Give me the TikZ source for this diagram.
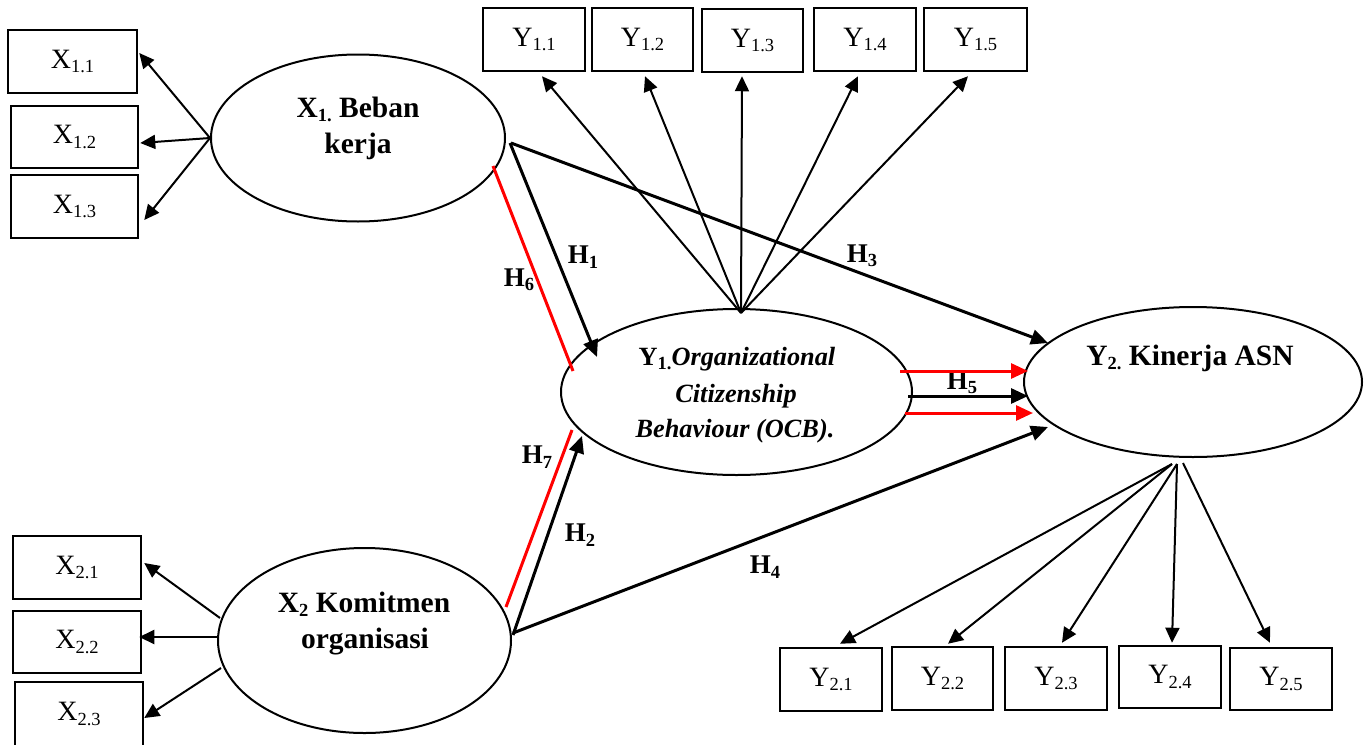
\documentclass[tikz,border=0pt]{standalone}
\usepackage{fontspec}
\setmainfont{Liberation Serif}
\usetikzlibrary{shapes.geometric,arrows.meta,calc}
\newcommand{\sbs}[1]{\raisebox{-0.16em}{\fontsize{18.5}{18.5}\selectfont #1}}
\begin{document}
\begin{tikzpicture}[x=1pt,y=-1pt,
  box/.style={draw, line width=2.5pt, inner sep=0pt, font=\fontsize{28}{30}\selectfont},
  lat/.style={draw, ellipse, line width=2pt, inner sep=0pt},
  lbl/.style={font=\fontsize{29.5}{34}\selectfont\bfseries, inner sep=0pt, anchor=base},
  ocb/.style={font=\fontsize{26.3}{32}\selectfont\bfseries\itshape, inner sep=0pt, anchor=base},
  hl/.style={font=\fontsize{27}{30}\selectfont\bfseries, inner sep=0pt},
  ind/.style={line width=2pt, -{Triangle[length=15pt,width=14pt]}},
  hyp/.style={line width=3pt, -{Triangle[length=17pt,width=15pt]}},
  redl/.style={red, line width=3pt},
  redarr/.style={red, line width=3pt, -{Triangle[length=17pt,width=15pt]}},
]
\useasboundingbox (0,0) rectangle (1367,744);

% latent variables
\node[lat, minimum width=294pt, minimum height=167pt] (X1) at (358,138) {};
\node[lat, minimum width=293pt, minimum height=185pt] (X2) at (364.5,640.5) {};
\node[lat, minimum width=351pt, minimum height=166pt] (Y1) at (736.5,392) {};
\node[lat, minimum width=338pt, minimum height=150pt] (Y2) at (1193,382) {};

% latent texts
\node[lbl] (x1a) at (358,117) {X\sbs{1.} Beban};
\node[lbl] (x1b) at (358,153) {kerja};
\node[lbl] (x2a) at (364,612) {X\sbs{2} Komitmen};
\node[lbl] (x2b) at (365,648) {organisasi};
\node[ocb] (y1a) at (737,365) {{\upshape Y\sbs{1.}}Organizational};
\node[ocb] (y1b) at (736,402) {Citizenship};
\node[ocb] (y1c) at (735,437) {Behaviour (OCB).};
\node[lbl] (y2a) at (1190,365) {Y\sbs{2.} Kinerja ASN};

% indicator boxes
\node[box, minimum width=129pt, minimum height=63pt] (x11) at (72.5,61.5) {X\sbs{1.1}};
\node[box, minimum width=127pt, minimum height=62pt] (x12) at (74.5,137) {X\sbs{1.2}};
\node[box, minimum width=127pt, minimum height=63pt] (x13) at (74.5,206.5) {X\sbs{1.3}};
\node[box, minimum width=128pt, minimum height=63pt] (x21) at (77,567.5) {X\sbs{2.1}};
\node[box, minimum width=128pt, minimum height=62pt] (x22) at (77,642) {X\sbs{2.2}};
\node[box, minimum width=128pt, minimum height=64pt] (x23) at (79,714) {X\sbs{2.3}};
\node[box, minimum width=102pt, minimum height=63pt] (y11) at (534,39.5) {Y\sbs{1.1}};
\node[box, minimum width=101pt, minimum height=63pt] (y12) at (642.5,39.5) {Y\sbs{1.2}};
\node[box, minimum width=101pt, minimum height=63pt] (y13) at (752.5,40.5) {Y\sbs{1.3}};
\node[box, minimum width=102pt, minimum height=63pt] (y14) at (865,39.5) {Y\sbs{1.4}};
\node[box, minimum width=103pt, minimum height=63pt] (y15) at (975.5,39.5) {Y\sbs{1.5}};
\node[box, minimum width=102pt, minimum height=63pt] (y21) at (831,679.5) {Y\sbs{2.1}};
\node[box, minimum width=101pt, minimum height=63pt] (y22) at (942.5,678.5) {Y\sbs{2.2}};
\node[box, minimum width=102pt, minimum height=63pt] (y23) at (1056,678.5) {Y\sbs{2.3}};
\node[box, minimum width=102pt, minimum height=62pt] (y24) at (1170,677) {Y\sbs{2.4}};
\node[box, minimum width=102pt, minimum height=62pt] (y25) at (1281,679) {Y\sbs{2.5}};

% hypothesis labels
\node[hl] (h1) at (583,257) {H\sbs{1}};
\node[hl] (h6) at (519,280) {H\sbs{6}};
\node[hl] (h3) at (862,256) {H\sbs{3}};
\node[hl] (h7) at (537,457) {H\sbs{7}};
\node[hl] (h2) at (580,535) {H\sbs{2}};
\node[hl] (h4) at (765,567) {H\sbs{4}};
\node[hl] (h5) at (962,383) {H\sbs{5}};

% X1 indicators
\draw[ind] (X1.west) -- ($(x11.east)+(1,-8.5)$);
\draw[ind] (X1.west) -- ($(x12.east)+(1,6)$);
\draw[ind] (X1.west) -- ($(x13.east)+(5,13.5)$);
% X2 indicators
\draw[ind] ($(X2.center)+(-144.5,-22.5)$) -- ($(x21.east)+(2,-4.5)$);
\draw[ind] ($(X2.center)+(-147.5,-3.5)$) -- ($(x22.east)+(-3,-5)$);
\draw[ind] ($(X2.center)+(-143.5,27.5)$) -- ($(x23.east)+(0,4)$);
% Y1 indicators
\coordinate (s1) at ($(Y1.north)+(4.5,5)$);
\draw[ind] (s1) -- ($(y11.south)+(8,4)$);
\draw[ind] (s1) -- ($(y12.south)+(2.5,4)$);
\draw[ind] (s1) -- ($(y13.south)+(-10.5,3)$);
\draw[ind] (s1) -- ($(y14.south)+(-7,4)$);
\draw[ind] (s1) -- ($(y15.south)+(-7.5,4)$);
% Y2 indicators
\draw[ind] ($(Y2.south)+(-21,6)$) -- ($(y21.north)+(9,-3)$);
\draw[ind] ($(Y2.south)+(-21,6)$) -- ($(y22.north)+(5.5,-2)$);
\draw[ind] ($(Y2.south)+(-16,6)$) -- ($(y23.north)+(6,-3)$);
\draw[ind] ($(Y2.south)+(-16,6)$) -- ($(y24.north)+(2,-2)$);
\draw[ind] ($(Y2.south)+(-10,5)$) -- ($(y25.north)+(-11,-4)$);

% structural paths
\draw[hyp] ($(X1.east)+(4,5)$) -- ($(Y1.center)+(-139.5,-35)$);
\draw[hyp] ($(X1.east)+(5,5)$) -- ($(Y2.center)+(-145,-39)$);
\draw[redl] ($(X1.center)+(135,28)$) -- ($(Y1.center)+(-163.5,-21)$);
\draw[redl] ($(X2.center)+(141.5,-33.5)$) -- ($(Y1.center)+(-164.5,38)$);
\draw[hyp] ($(X2.center)+(148.5,-5.5)$) -- ($(Y1.center)+(-154.5,44)$);
\draw[hyp] ($(X2.center)+(148.5,-7.5)$) -- ($(Y2.center)+(-145,45)$);
\draw[redarr] ($(Y1.center)+(163.5,-21)$) -- ($(Y2.center)+(-165,-11)$);
\draw[hyp] ($(Y1.center)+(171.5,4)$) -- ($(Y2.center)+(-165,14)$);
\draw[redarr] ($(Y1.center)+(168.5,21)$) -- ($(Y2.center)+(-160,31)$);
\end{tikzpicture}
\end{document}
